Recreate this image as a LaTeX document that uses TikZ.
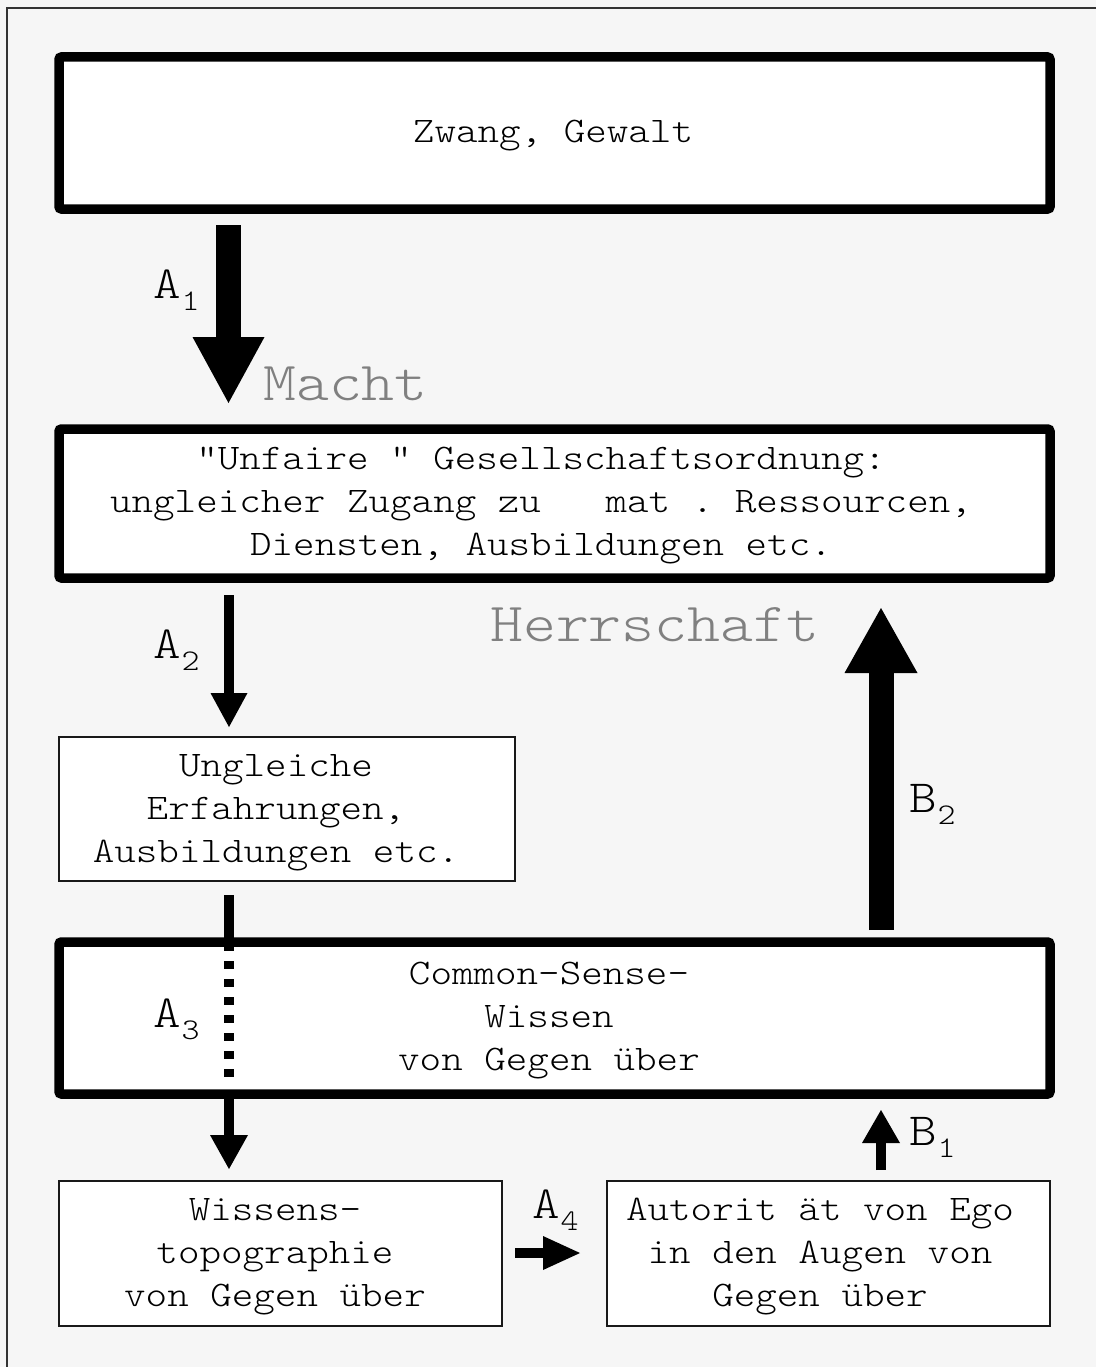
\documentclass[tikz,border=0pt]{standalone}
\usepackage{fontspec}
\usetikzlibrary{arrows.meta}
\newfontfamily\courf[FakeStretch=1.14]{lmmonolt10-regular.otf}
\definecolor{bgc}{HTML}{F6F6F6}
\definecolor{grl}{HTML}{808080}
\newcommand\sublab[2]{#1\kern1pt\raisebox{-12pt}{\fontsize{30}{30}\selectfont #2}}
\tikzset{
  thickbox/.style={draw=black, fill=white, line width=9.5pt, rounded corners=2.5pt, inner sep=0pt, outer sep=0pt},
  thinbox/.style={draw=black!90, fill=white, line width=1.3pt, inner sep=0pt, outer sep=0pt},
  boxtext/.style={font={\courf\frenchspacing\fontsize{36}{43}\selectfont}, align=center, inner sep=0pt},
  steplabel/.style={font={\courf\fontsize{46}{46}\selectfont}, anchor=base west, inner sep=0pt},
  graylabel/.style={font={\courf\fontsize{55}{55}\selectfont}, text=grl, anchor=base west, inner sep=0pt},
  bigarrow/.style={line width=25pt, -{Triangle[width=72pt,length=66pt,line width=0pt]}},
  smallarrow/.style={line width=10pt, -{Triangle[width=37pt,length=34pt,line width=0pt]}},
  dotline/.style={line width=10pt, dash pattern=on 8.3pt off 9.7pt},
  solidline/.style={line width=10pt}
}
\begin{document}
\begin{tikzpicture}[x=1pt,y=-1pt]
\useasboundingbox (0,0) rectangle (1096,1367);
\fill[bgc] (0,0) rectangle (1096,1367);
\draw[black!80, line width=1.5pt] (7,1367) -- (7,8) -- (1096,8);

% boxes
\node[thickbox, minimum width=991pt, minimum height=152pt] (box1) at (554.5,133) {};
\node[thickbox, minimum width=991pt, minimum height=149pt] (box2) at (554.5,503.5) {};
\node[thinbox, minimum width=456pt, minimum height=144pt] (box3) at (287,809) {};
\node[thickbox, minimum width=991pt, minimum height=152pt] (box4) at (554.5,1018) {};
\node[thinbox, minimum width=443pt, minimum height=145pt] (box5) at (280.5,1253.5) {};
\node[thinbox, minimum width=443pt, minimum height=145pt] (box6) at (828.5,1253.5) {};

% texts
\node[boxtext] (t1) at (553,136) {Zwang, Gewalt};
\node[boxtext] (t2) at (541,506) {"Unfaire " Gesellschaftsordnung:\\ungleicher Zugang zu~~~mat . Ressourcen,\\Diensten, Ausbildungen etc.};
\node[boxtext] (t3) at (276,813) {Ungleiche\\Erfahrungen,\\Ausbildungen etc.};
\node[boxtext] (t4) at (549,1021) {Common-Sense-\\Wissen\\von Gegen über};
\node[boxtext] (t5) at (275,1257) {Wissens-\\topographie\\von Gegen über};
\node[boxtext] (t6) at (820,1257) {Autorit ät von Ego\\in den Augen von\\Gegen über};

% arrow coordinates
\coordinate (a1s) at (228.5,225);  \coordinate (a1e) at (228.5,403);
\coordinate (a2s) at (229,595);    \coordinate (a2e) at (229,727);
\coordinate (a3s) at (229,895);    \coordinate (a3m) at (229,944);
\coordinate (a3d1) at (229,943);   \coordinate (a3d2) at (229,1078);
\coordinate (a3b) at (229,1094);   \coordinate (a3e) at (229,1169);
\coordinate (a4s) at (515,1253);   \coordinate (a4e) at (580,1253);
\coordinate (b1s) at (881,1170);   \coordinate (b1e) at (881,1110);
\coordinate (b2s) at (881,930);    \coordinate (b2e) at (881,608);

% arrows
\draw[bigarrow] (a1s) -- (a1e);
\draw[bigarrow, -{Triangle[width=73pt,length=65pt,line width=0pt]}] (b2s) -- (b2e);
\draw[smallarrow] (a2s) -- (a2e);
\draw[solidline] (a3s) -- (a3m);
\draw[dotline] (a3d1) -- (a3d2);
\draw[smallarrow, -{Triangle[width=38pt,length=34pt,line width=0pt]}] (a3b) -- (a3e);
\draw[smallarrow, -{Triangle[width=34pt,length=37pt,line width=0pt]}] (a4s) -- (a4e);
\draw[smallarrow, -{Triangle[width=38pt,length=33pt,line width=0pt]}] (b1s) -- (b1e);

% labels
\node[steplabel] (la1) at (153,298) {\sublab{A}{1}};
\node[steplabel] (la2) at (153,658) {\sublab{A}{2}};
\node[steplabel] (la3) at (153,1027) {\sublab{A}{3}};
\node[steplabel] (la4) at (532,1218) {\sublab{A}{4}};
\node[steplabel] (lb1) at (909,1145) {\sublab{B}{1}};
\node[steplabel] (lb2) at (909,812) {\sublab{B}{2}};
\node[graylabel] (macht) at (263,400) {Macht};
\node[graylabel] (herr) at (490,641) {Herrschaft};
\end{tikzpicture}
\end{document}
